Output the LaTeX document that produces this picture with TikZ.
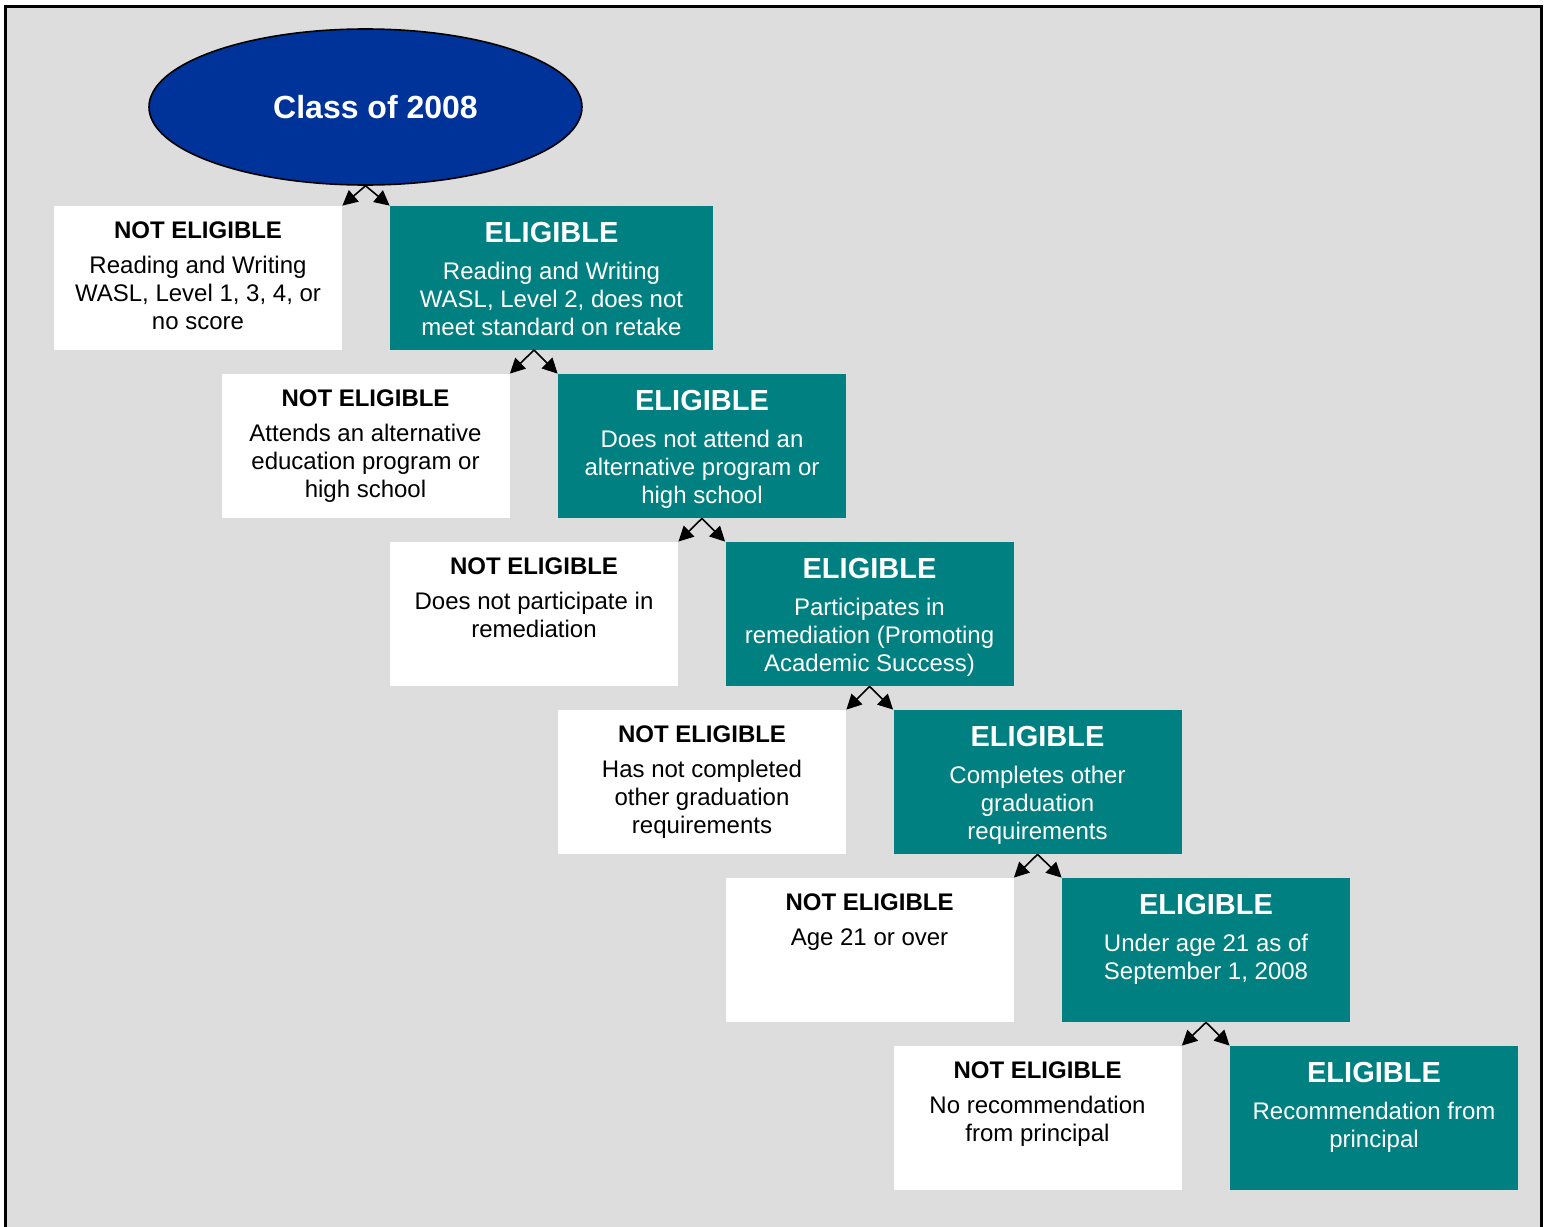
\documentclass[tikz,border=0pt]{standalone}
\usepackage{fontspec}
\setmainfont{Liberation Sans}
\usetikzlibrary{shapes.geometric,arrows.meta}
\definecolor{classblue}{HTML}{003399}
\definecolor{eligteal}{HTML}{008080}
\definecolor{framegray}{HTML}{DDDDDD}
\newcommand{\nothead}{{\bfseries NOT ELIGIBLE}\\[3.7pt]}
\newcommand{\okhead}{{\bfseries\fontsize{14.5}{17}\selectfont ELIGIBLE}\\[4.5pt]}

\begin{document}
\begin{tikzpicture}[x=0.5pt,y=-0.5pt,
classnode/.style={ellipse, draw=black, line width=0.8pt, fill=classblue, minimum width=216.5pt, minimum height=78pt, inner sep=0pt, text=white, font=\bfseries\fontsize{16}{19}\selectfont},
notbox/.style={fill=white, minimum width=144pt, minimum height=72pt, inner sep=0pt},
okbox/.style={fill=eligteal, minimum width=144pt, minimum height=72pt, inner sep=0pt},
nottext/.style={anchor=north, align=center, inner sep=0pt, yshift=-7.75pt, font=\fontsize{12}{14}\selectfont},
oktext/.style={anchor=north, align=center, inner sep=0pt, yshift=-8.25pt, text=white, font=\fontsize{12}{14}\selectfont},
branch/.style={-{Triangle[length=7.5pt,width=7.5pt]}, line width=0.8pt},
]
%Frame
\clip (0,0) rectangle (1547,1226);
\fill[white] (0,0) rectangle (1547,1226);
\draw[line width=1.5pt, fill=framegray] (5.5,6.5) rectangle (1541.5,1260);
%Nodes
\node[classnode] at (365.5,107) (class) {\hspace*{10pt}Class of 2008};
\node[notbox] at (198,278)    (w1) {};
\node[okbox, minimum width=161.5pt] at (551.5,278) (e1) {};
\node[notbox] at (365.5,446)  (w2) {};
\node[okbox]  at (702,446)    (e2) {};
\node[notbox] at (534,614)    (w3) {};
\node[okbox]  at (869.5,614)  (e3) {};
\node[notbox] at (702,782)    (w4) {};
\node[okbox]  at (1037.5,782) (e4) {};
\node[notbox] at (869.5,950)  (w5) {};
\node[okbox]  at (1206,950)   (e5) {};
\node[notbox] at (1037.5,1118) (w6) {};
\node[okbox]  at (1374,1118)  (e6) {};
%Texts
\node[nottext] at (w1.north) (w1t) {\nothead Reading and Writing\\WASL, Level 1, 3, 4, or\\no score};
\node[oktext]  at (e1.north) (e1t) {\okhead Reading and Writing\\WASL, Level 2, does not\\meet standard on retake};
\node[nottext] at (w2.north) (w2t) {\nothead Attends an alternative\\education program or\\high school};
\node[oktext]  at (e2.north) (e2t) {\okhead Does not attend an\\alternative program or\\high school};
\node[nottext] at (w3.north) (w3t) {\nothead Does not participate in\\remediation};
\node[oktext]  at (e3.north) (e3t) {\okhead Participates in\\remediation (Promoting\\Academic Success)};
\node[nottext] at (w4.north) (w4t) {\nothead Has not completed\\other graduation\\requirements};
\node[oktext]  at (e4.north) (e4t) {\okhead Completes other\\graduation\\requirements};
\node[nottext] at (w5.north) (w5t) {\nothead Age 21 or over};
\node[oktext]  at (e5.north) (e5t) {\okhead Under age 21 as of\\September 1, 2008};
\node[nottext] at (w6.north) (w6t) {\nothead No recommendation\\from principal};
\node[oktext]  at (e6.north) (e6t) {\okhead Recommendation from\\principal};
%Lines
\coordinate (s2) at (534,350);
\draw[branch] (class.south) -- (w1.north east);
\draw[branch] (class.south) -- (e1.north west);
\draw[branch] (s2) -- (w2.north east);
\draw[branch] (s2) -- (e2.north west);
\draw[branch] (e2.south) -- (w3.north east);
\draw[branch] (e2.south) -- (e3.north west);
\draw[branch] (e3.south) -- (w4.north east);
\draw[branch] (e3.south) -- (e4.north west);
\draw[branch] (e4.south) -- (w5.north east);
\draw[branch] (e4.south) -- (e5.north west);
\draw[branch] (e5.south) -- (w6.north east);
\draw[branch] (e5.south) -- (e6.north west);
\end{tikzpicture}
\end{document}
